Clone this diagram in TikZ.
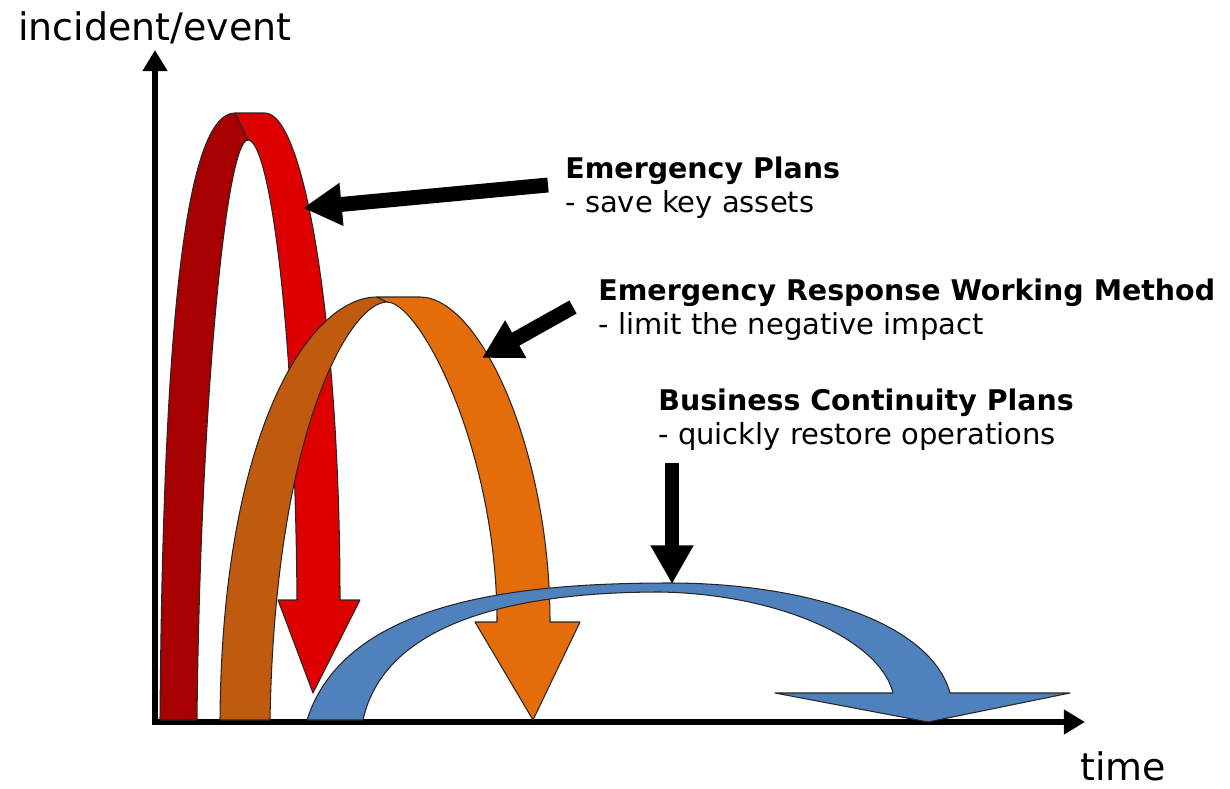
\documentclass[tikz,border=0pt]{standalone}
\usepackage{fontspec}
\setmainfont{DejaVu Sans}
\usepackage{tikz}
\usetikzlibrary{arrows.meta}
\usepackage{xcolor}

\definecolor{redfront}{RGB}{222,0,0}
\definecolor{redback}{RGB}{168,0,0}
\definecolor{orangefront}{RGB}{228,108,10}
\definecolor{orangeback}{RGB}{192,90,14}
\definecolor{bluefront}{RGB}{79,129,189}

\begin{document}
\begin{tikzpicture}[x=0.02cm, y=-0.02cm]
				\tikzstyle{axis} = [line width=3.4pt, -{Triangle[length=12pt, width=13.5pt]}]
				\tikzstyle{pointer} = [line width=8.5pt, -{Triangle[length=22pt, width=23pt]}]
				\tikzstyle{band} = [draw=black!85, line width=0.6pt, line join=round]
				\tikzstyle{title} = [inner sep=0pt, anchor=base west, font=\bfseries\fontsize{16.2}{19}\selectfont]
				\tikzstyle{sub} = [inner sep=0pt, anchor=base west, font=\fontsize{16.5}{19}\selectfont]
				\tikzstyle{axlabel} = [inner sep=0pt, anchor=base west, font=\fontsize{21.6}{26}\selectfont]

				\useasboundingbox (0,0) rectangle (1230,788);

				\coordinate (o)    at (152,722);
				\coordinate (ymax) at (155,50);
				\coordinate (xmax) at (1085,722);

				\coordinate (e0) at (548,185);
				\coordinate (e1) at (303,208);
				\coordinate (r0) at (573,307);
				\coordinate (r1) at (482,358);
				\coordinate (b0) at (672,463);
				\coordinate (b1) at (672,584);

				\node[axlabel]	at (18,40)		(ylabel)	{incident/event};
				\node[axlabel]	at (1080,780)	(xlabel)	{time};

				\node[title]	at (565,178)	(ep)		{Emergency Plans};
				\node[sub]		at (565,212)	(ep2)		{- save key assets};
				\node[title]	at (598,300)	(erwm)		{Emergency Response Working Method};
				\node[sub]		at (598,334)	(erwm2)		{- limit the negative impact};
				\node[title]	at (658,410)	(bcp)		{Business Continuity Plans};
				\node[sub]		at (658,444)	(bcp2)		{- quickly restore operations};

				\draw[axis] (155,724) -- (ymax);
				\draw[axis] (o) -- (xmax);

				% red ribbon: back leg, then front leg with its head
				\filldraw[band, fill=redback]
				(160,720) .. controls (163,330) and (185,113) .. (235,113)
				-- (248,140) .. controls (225,140) and (200,420) .. (197,720) -- cycle;
				\filldraw[band, fill=redfront]
				(235,113) -- (265,113) .. controls (305,113) and (340,330) .. (340,600)
				-- (360,600) -- (313,693) -- (278,600) -- (297,600)
				.. controls (295,330) and (270,140) .. (248,140) -- cycle;

				% orange ribbon
				\filldraw[band, fill=orangeback]
				(220,720) .. controls (222,430) and (310,297) .. (377,297)
				-- (387,302) .. controls (350,302) and (275,430) .. (270,720) -- cycle;
				\filldraw[band, fill=orangefront]
				(377,297) -- (420,297) .. controls (480,297) and (550,450) .. (550,622)
				-- (580,622) -- (533,720) -- (475,622) -- (497,622)
				.. controls (497,450) and (420,302) .. (387,302) -- cycle;

				% blue ribbon
				\filldraw[band, fill=bluefront]
				(307,720) .. controls (345,600) and (520,583) .. (670,583)
				.. controls (800,583) and (930,620) .. (950,693)
				-- (1070,693) -- (928,722) -- (775,693) -- (893,693)
				.. controls (880,640) and (780,594) .. (660,592)
				.. controls (520,592) and (385,620) .. (363,720) -- cycle;

				\draw[pointer] (e0) -- (e1);
				\draw[pointer] (r0) -- (r1);
				\draw[pointer] (b0) -- (b1);
			\end{tikzpicture}
\end{document}
